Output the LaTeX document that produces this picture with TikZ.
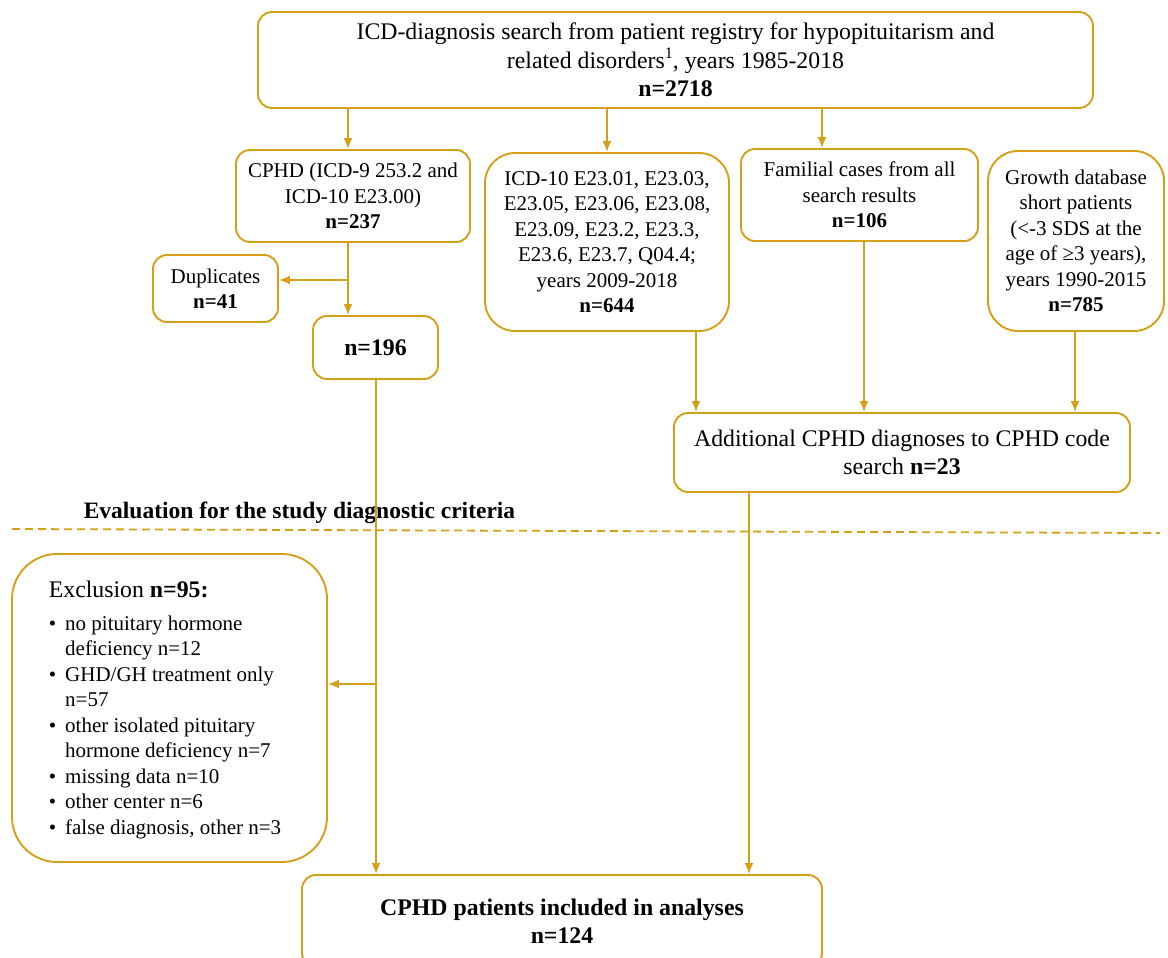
\documentclass[tikz,border=0pt]{standalone}
\usepackage{fontspec}
\setmainfont{Liberation Serif}
\usetikzlibrary{positioning,arrows.meta}
\definecolor{gold}{RGB}{212,160,23}

\begin{document}
\begin{tikzpicture}[x=1pt,y=-1pt,>={Latex[length=11pt,width=9pt]},
	box/.style={draw=gold,line width=1.9pt,rounded corners=14pt,align=center,inner sep=0pt,
		font=\fontsize{21}{25.5}\selectfont},
	bigbox/.style={box,font=\fontsize{23.8}{28.5}\selectfont},
	link/.style={draw=gold,line width=1.9pt}]
	\useasboundingbox (0,0) rectangle (1168,958);
	% boxes
	\node[bigbox,minimum width=835pt,minimum height=96pt] (search) at (675.5,60) {ICD-diagnosis search from patient registry for hypopituitarism and\\ related disorders\raisebox{0.42em}{\fontsize{16}{16}\selectfont 1}, years 1985-2018\\ \textbf{n=2718}};
	\node[box,minimum width=234pt,minimum height=92pt] (cphd) at (353,196) {CPHD (ICD-9 253.2 and\\ ICD-10 E23.00)\\ \textbf{n=237}};
	\node[box,minimum width=125pt,minimum height=67pt] (dup) at (215.5,288.5) {Duplicates\\ \textbf{n=41}};
	\node[bigbox,minimum width=125pt,minimum height=63pt] (n196) at (375.5,347.5) {\textbf{n=196}};
	\node[box,rounded corners=30pt,minimum width=244pt,minimum height=178pt] (icd) at (607,242) {ICD-10 E23.01, E23.03,\\ E23.05, E23.06, E23.08,\\ E23.09, E23.2, E23.3,\\ E23.6, E23.7, Q04.4;\\ years 2009-2018\\ \textbf{n=644}};
	\node[box,minimum width=237pt,minimum height=92pt] (famil) at (859.5,195) {Familial cases from all\\ search results\\ \textbf{n=106}};
	\node[box,rounded corners=30pt,minimum width=176pt,minimum height=180pt] (growth) at (1076,241) {Growth database\\ short patients\\ (<-3 SDS at the\\ age of ≥3 years),\\ years 1990-2015\\ \textbf{n=785}};
	\node[bigbox,minimum width=456pt,minimum height=79pt] (addl) at (902,452.5) {Additional CPHD diagnoses to CPHD code\\ search \textbf{n=23}};
	\node[font=\bfseries\fontsize{23.5}{28}\selectfont] (evalabel) at (299.5,513) {Evaluation for the study diagnostic criteria};
	\node[box,rounded corners=45pt,minimum width=315pt,minimum height=308pt] (excl) at (169.5,708) {%
		\raisebox{-3pt}[\height][\depth]{\begin{tabular}{@{}l@{\hspace{9pt}}l@{\hspace{9pt}}}
			\multicolumn{2}{@{}l@{}}{\fontsize{23.8}{28.5}\selectfont Exclusion \textbf{n=95:}}\\[7pt]
			\textbullet & no pituitary hormone\\
			& deficiency n=12\\
			\textbullet & GHD/GH treatment only\\
			& n=57\\
			\textbullet & other isolated pituitary\\
			& hormone deficiency n=7\\
			\textbullet & missing data n=10\\
			\textbullet & other center n=6\\
			\textbullet & false diagnosis, other n=3
		\end{tabular}}};
	\node[bigbox,font=\bfseries\fontsize{23.8}{28.5}\selectfont,minimum width=520pt,minimum height=92pt] (final) at (562,921) {CPHD patients included in analyses\\ n=124};
	% line positions
	\coordinate (xa) at (348,0);
	\coordinate (xb) at (607,0);
	\coordinate (xc) at (822,0);
	\coordinate (xd) at (696,0);
	\coordinate (xe) at (864,0);
	\coordinate (xf) at (1075,0);
	\coordinate (xg) at (376,0);
	\coordinate (xh) at (749,0);
	\coordinate (dupsplit) at (348,280);
	\coordinate (exsplit) at (376,684);
	\coordinate (dashL) at (12,529);
	\coordinate (dashR) at (1160,533);
	% connectors
	\draw[link,->] (search.south -| xa) -- (cphd.north -| xa);
	\draw[link,->] (search.south -| xb) -- (icd.north -| xb);
	\draw[link,->] (search.south -| xc) -- (famil.north -| xc);
	\draw[link,->] (cphd.south -| xa) -- (n196.north -| xa);
	\draw[link,->] (dupsplit) -- (dupsplit -| dup.east);
	\draw[link,->] (icd.south -| xd) -- (addl.north -| xd);
	\draw[link,->] (famil.south -| xe) -- (addl.north -| xe);
	\draw[link,->] (growth.south -| xf) -- (addl.north -| xf);
	\draw[link,->] (n196.south -| xg) -- (final.north -| xg);
	\draw[link,->] (exsplit) -- (exsplit -| excl.east);
	\draw[link,->] (addl.south -| xh) -- (final.north -| xh);
	\draw[draw=gold,line width=1.8pt,dash pattern=on 8pt off 5pt] (dashL) -- (dashR);
\end{tikzpicture}
\end{document}
